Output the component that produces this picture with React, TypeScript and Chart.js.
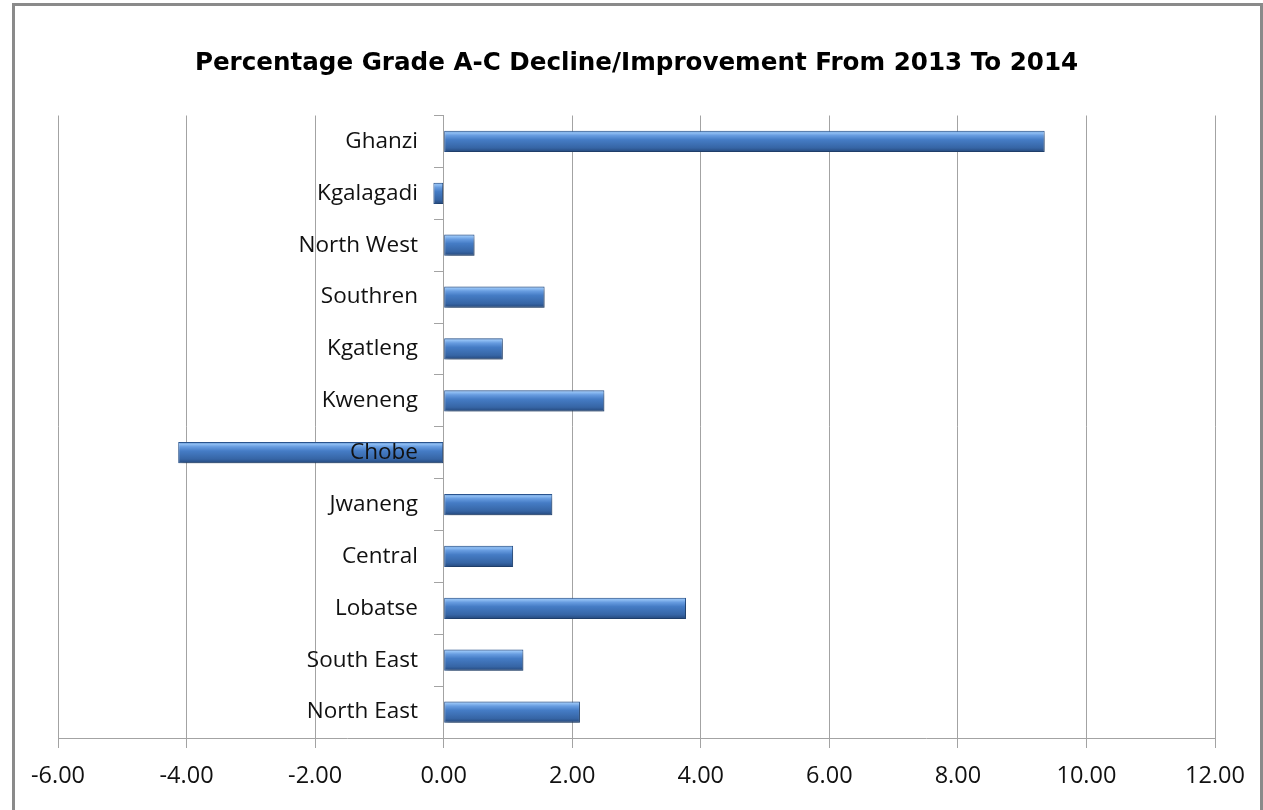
import React, { useEffect, useRef } from 'react';
import { Chart, registerables } from 'chart.js';

Chart.register(...registerables);

const chartTitle = 'Percentage Grade A-C Decline/Improvement From 2013 To 2014';
const categories = [
  'Ghanzi',
  'Kgalagadi',
  'North West',
  'Southren',
  'Kgatleng',
  'Kweneng',
  'Chobe',
  'Jwaneng',
  'Central',
  'Lobatse',
  'South East',
  'North East',
];
const changeValues = [9.35, -0.16, 0.48, 1.57, 0.92, 2.5, -4.13, 1.69, 1.08, 3.77, 1.24, 2.12];
const xTickValues = [-6, -4, -2, 0, 2, 4, 6, 8, 10, 12];

const BAR_PCT = 0.41;
const GRID = '#a3a3a3';
// label column sits a little left of the zero line (in axis units)
const LABEL_ANCHOR = -0.4;

const barFill = (c: any) => {
  const chart = c.chart;
  const ys = chart.scales && chart.scales.y;
  if (!ys || c.dataIndex == null || !chart.chartArea) return '#4f81bd';
  const cy = ys.getPixelForValue(c.dataIndex);
  const h = (ys.height / categories.length) * BAR_PCT;
  const g = chart.ctx.createLinearGradient(0, cy - h / 2, 0, cy + h / 2);
  g.addColorStop(0, '#3f72b4');
  g.addColorStop(0.09, '#92c0f4');
  g.addColorStop(0.22, '#679ce0');
  g.addColorStop(0.42, '#457cc5');
  g.addColorStop(0.8, '#3665a5');
  g.addColorStop(1, '#24477a');
  return g;
};

const barShadow = {
  id: 'barShadow',
  beforeDatasetsDraw(chart: any) {
    const ctx = chart.ctx;
    ctx.save();
    ctx.shadowColor = 'rgba(0,0,0,0.35)';
    ctx.shadowBlur = 5;
    ctx.shadowOffsetX = 2;
    ctx.shadowOffsetY = 3;
  },
  afterDatasetsDraw(chart: any) {
    chart.ctx.restore();
  },
};

export default function App() {
  const canvasRef = useRef<HTMLCanvasElement | null>(null);

  useEffect(() => {
    if (!canvasRef.current) return;
    const chart = new Chart(canvasRef.current, {
      type: 'bar',
      data: {
        labels: categories,
        datasets: [
          {
            label: 'Change',
            data: changeValues,
            backgroundColor: barFill,
            borderColor: '#2a5590',
            borderWidth: 1,
            borderSkipped: false,
            barPercentage: BAR_PCT,
            categoryPercentage: 1,
            yAxisID: 'y',
          },
        ],
      },
      options: {
        indexAxis: 'y',
        animation: false,
        responsive: true,
        maintainAspectRatio: false,
        layout: { padding: { left: 58, right: 48, top: 0, bottom: 0 } },
        plugins: {
          legend: { display: false },
          tooltip: { enabled: false },
          title: {
            display: true,
            text: chartTitle,
            color: '#000',
            font: { family: 'DejaVu Sans', weight: 'bold', size: 24.6 },
            padding: { top: 49, bottom: 37 },
          },
        },
        scales: {
          x: {
            type: 'linear',
            min: -6,
            max: 12,
            afterBuildTicks: (s: any) => {
              s.ticks = xTickValues.map((v) => ({ value: v }));
            },
            afterFit: (s: any) => {
              s.height = 72;
            },
            grid: { color: GRID, lineWidth: 1, tickLength: 10, drawTicks: true },
            border: { color: GRID, width: 1 },
            ticks: {
              callback: (v: any) => Number(v).toFixed(2),
              color: '#111',
              font: { family: 'Open Sans', size: 23.5 },
              padding: 14,
              maxRotation: 0,
              autoSkip: false,
            },
          },
          y: {
            type: 'category',
            position: { x: LABEL_ANCHOR } as any,
            grid: { display: false, drawTicks: false },
            border: { display: false },
            ticks: {
              z: 1,
              color: '#111',
              font: { family: 'Open Sans', size: 22.5 },
              padding: 0,
              autoSkip: false,
            },
          },
          yTicks: {
            type: 'category',
            axis: 'y',
            position: { x: 0 } as any,
            grid: { drawOnChartArea: false, offset: true, tickLength: 9, color: GRID },
            border: { display: true, color: GRID, width: 1 },
            ticks: { display: false },
          },
        },
      },
      plugins: [barShadow],
    });
    return () => chart.destroy();
  }, []);

  return (
    <div
      style={{
        position: 'absolute',
        left: 0,
        top: 0,
        width: 1263,
        height: 810,
        overflow: 'hidden',
        background: '#fff',
      }}
    >
      <div
        style={{
          position: 'absolute',
          left: 12,
          top: 3,
          width: 1251,
          height: 900,
          border: '3px solid #8a8a8a',
          boxSizing: 'border-box',
        }}
      />
      <div style={{ position: 'absolute', left: 0, top: 0, width: 1263, height: 810 }}>
        <canvas ref={canvasRef} />
      </div>
    </div>
  );
}
